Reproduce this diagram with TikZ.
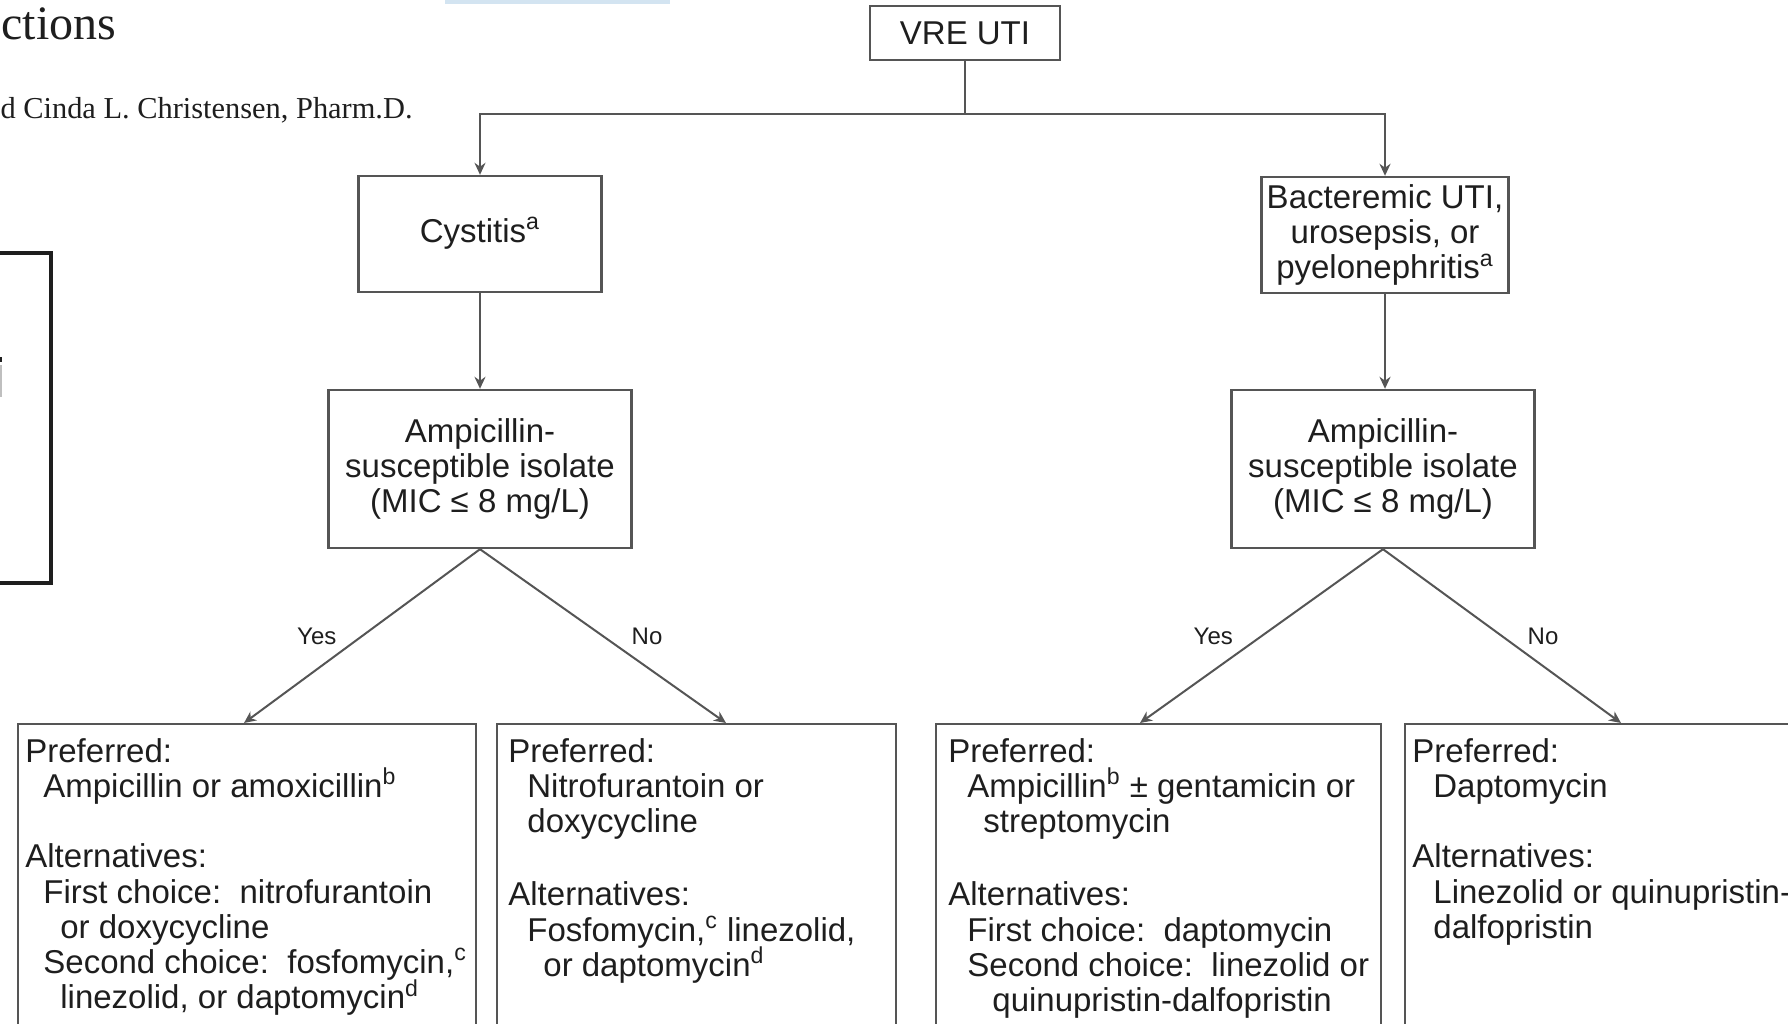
\documentclass[tikz,border=0pt]{standalone}
\usepackage{fontspec}
\setmainfont{Liberation Sans}
\newfontfamily\bookfont{Liberation Serif}
\usetikzlibrary{arrows.meta}

\definecolor{boxgray}{HTML}{555555}
\definecolor{inkgray}{HTML}{1E1E1E}
\definecolor{barblue}{HTML}{D3E4F1}

\newcommand{\fnmark}[1]{\smash{\textsuperscript{#1}}}

\tikzset{
  box/.style={draw=boxgray, line width=1.2pt, align=center, text=inkgray, inner sep=0pt,
    font=\fontsize{16.5}{17.6}\selectfont},
  listbox/.style={draw=boxgray, line width=1.2pt, anchor=north west, inner sep=0pt, minimum height=170pt},
  listtext/.style={anchor=north west, align=left, inner sep=0pt, text=inkgray,
    font=\fontsize{16.5}{17.6}\selectfont},
  link/.style={draw=boxgray, line width=1pt},
  arr/.style={link, -{Stealth[length=6pt,width=5.5pt]}},
  lbl/.style={text=inkgray, font=\fontsize{12}{14}\selectfont}
}

\begin{document}
\begin{tikzpicture}[x=0.5pt,y=-0.5pt]
  \useasboundingbox (0,0) rectangle (1788,1023);
  \clip (0,0) rectangle (1788,1023);

  % page fragments round the chart
  \node[anchor=base west, inner sep=0pt, text=inkgray, font=\bookfont\fontsize{24}{28}\selectfont] (title) at (1,39) {ctions};
  \node[anchor=base east, inner sep=0pt, text=inkgray, font=\bookfont\fontsize{15.2}{18}\selectfont] (byline) at (413,118) {d Cinda L. Christensen, Pharm.D.};
  \draw[line width=1.6pt, inkgray] (-10,253) -| (51,583) -- (-10,583);
  \fill[inkgray] (0,357) rectangle (2,362);
  \fill[black!25] (0,365) rectangle (2,397);
  \fill[barblue] (445,0) rectangle (670,4);

  % top of the tree
  \node[box, minimum width=95pt, minimum height=27pt] (vre) at (965,33) {VRE UTI};
  \node[box, minimum width=121.5pt, minimum height=58pt] (cys) at (480,234) {Cystitis\fnmark{a}};
  \node[box, minimum width=123.5pt, minimum height=58pt] (bact) at (1385,235)
    {Bacteremic UTI,\\urosepsis, or\\pyelonephritis\fnmark{a}};
  \node[box, minimum width=151.5pt, minimum height=79pt] (ampL) at (480,469) {Ampicillin-\\susceptible isolate\\(MIC ≤ 8 mg/L)};
  \node[box, minimum width=151.5pt, minimum height=79pt] (ampR) at (1383,469) {Ampicillin-\\susceptible isolate\\(MIC ≤ 8 mg/L)};

  % treatment boxes
  \node[listbox, minimum width=229pt] (p1) at (17,723) {};
  \node[listbox, minimum width=199.5pt] (p2) at (496,723) {};
  \node[listbox, minimum width=222.5pt] (p3) at (935,723) {};
  \node[listbox, minimum width=200pt] (p4) at (1404,723) {};

  \node[listtext] (p1t) at (25,738) {Preferred:\\
    \hspace*{9pt}Ampicillin or amoxicillin\fnmark{b}\\[17.6pt]
    Alternatives:\\
    \hspace*{9pt}First choice:\ \ nitrofurantoin\\
    \hspace*{17.5pt}or doxycycline\\
    \hspace*{9pt}Second choice:\ \ fosfomycin,\fnmark{c}\\
    \hspace*{17.5pt}linezolid, or daptomycin\fnmark{d}};
  \node[listtext] (p2t) at (508,738) {Preferred:\\
    \hspace*{9.5pt}Nitrofurantoin or\\
    \hspace*{9.5pt}doxycycline\\[19pt]
    Alternatives:\\
    \hspace*{9.5pt}Fosfomycin,\fnmark{c} linezolid,\\
    \hspace*{17.5pt}or daptomycin\fnmark{d}};
  \node[listtext] (p3t) at (948,738) {Preferred:\\
    \hspace*{9.5pt}Ampicillin\fnmark{b} ± gentamicin or\\
    \hspace*{17.5pt}streptomycin\\[19pt]
    Alternatives:\\
    \hspace*{9.5pt}First choice:\ \ daptomycin\\
    \hspace*{9.5pt}Second choice:\ \ linezolid or\\
    \hspace*{22pt}quinupristin-dalfopristin};
  \node[listtext] (p4t) at (1412,738) {Preferred:\\
    \hspace*{10.5pt}Daptomycin\\[17.6pt]
    Alternatives:\\
    \hspace*{10.5pt}Linezolid or quinupristin-\\
    \hspace*{10.5pt}dalfopristin};

  % connectors
  \coordinate (split) at (965,114);
  \foreach \n/\x in {1/244,2/726,3/1140,4/1621} {
    \coordinate (tip\n) at (\x,723);}

  \draw[link] (vre) -- (split);
  \draw[arr] (split) -| (cys.north);
  \draw[arr] (split) -| (bact.north);
  \draw[arr] (cys) -- (ampL);
  \draw[arr] (bact.south) -- (bact.south |- ampR.north);

  \draw[arr] (ampL.south) -- node[lbl, left=9pt] {Yes} (tip1);
  \draw[arr] (ampL.south) -- node[lbl, right=10.5pt] {No} (tip2);
  \draw[arr] (ampR.south) -- node[lbl, left=10.5pt] {Yes} (tip3);
  \draw[arr] (ampR.south) -- node[lbl, right=9pt] {No} (tip4);
\end{tikzpicture}
\end{document}
